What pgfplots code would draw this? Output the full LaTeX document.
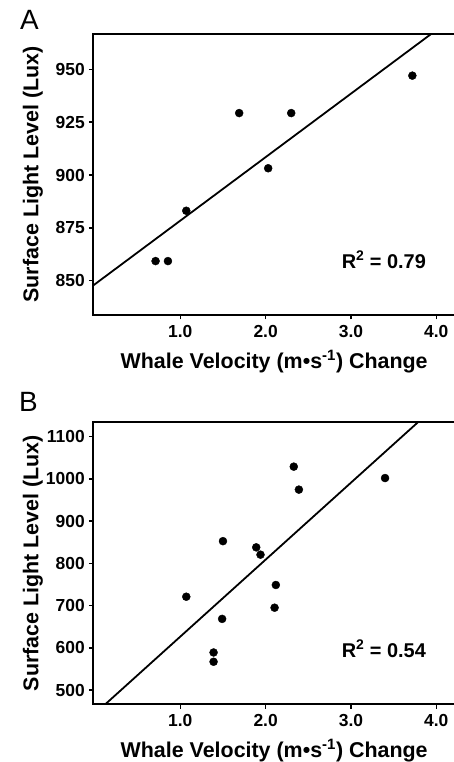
\documentclass[border=0pt]{standalone}
\usepackage{fontspec}
\setmainfont{Liberation Sans}
\usepackage{pgfplots}
\pgfplotsset{compat=1.18}

\pgfplotsset{
  whale/.style={
    scale only axis, width=361.7bp,
    xmin=-0.02, xmax=4.22,
    xtick={1,2,3,4}, xticklabels={1.0,2.0,3.0,4.0},
    tick align=outside, xtick pos=left, ytick pos=left,
    major tick length=4.5bp,
    axis line style={line width=1.8bp},
    every tick/.style={black, line width=1.4bp},
    /pgf/number format/assume math mode=true,
    /pgf/number format/1000 sep={},
    tick label style={font=\fontsize{17.5}{19}\selectfont\bfseries},
    xticklabel style={yshift=-2.5bp},
    yticklabel style={xshift=-0.5bp},
    label style={font=\fontsize{21.5}{24}\selectfont\bfseries},
    xlabel={Whale Velocity (m\textbullet s\textsuperscript{-1}) Change},
    ylabel={Surface Light Level (Lux)},
    xlabel style={at={(axis description cs:0.5,-0.166)}, anchor=center},
    ylabel style={at={(axis description cs:-0.167,0.5)}, anchor=center},
    clip=true,
  },
  dots/.style={only marks, mark=*, mark size=4bp, black},
  fit/.style={black, line width=1.8bp, no marks},
}

\begin{document}
\begin{tikzpicture}
\useasboundingbox (0,0) rectangle (454bp,762bp);

% panel A
\node[anchor=base west, inner sep=0pt, font=\fontsize{28}{30}\selectfont] at (20bp,732.7bp) {A};
\begin{axis}[whale, at={(93.3bp,447bp)}, anchor=south west,
  height=281bp, ymin=833.8, ymax=966.7,
  ytick={850,875,900,925,950}]
\addplot[dots] coordinates {
  (0.71,859.3) (0.855,859.3) (1.07,883.1) (1.69,929.3)
  (2.03,903.2) (2.30,929.3) (3.72,947.0)
};
\addplot[fit] coordinates {(-0.02,847.8) (3.94,966.7)};
\node[anchor=base east, font=\fontsize{20}{22}\selectfont\bfseries]
  at (axis cs:3.92,855.9) {R\textsuperscript{2} = 0.79};
\end{axis}

% panel B
\node[anchor=base west, inner sep=0pt, font=\fontsize{28}{30}\selectfont] at (19bp,350.3bp) {B};
\begin{axis}[whale, at={(93.3bp,58bp)}, anchor=south west,
  height=281.7bp, ymin=467, ymax=1134,
  ytick={500,600,700,800,900,1000,1100}]
\addplot[dots] coordinates {
  (1.07,721) (1.39,589) (1.39,567) (1.49,668.5) (1.50,852.6)
  (1.89,837.9) (1.94,820.6) (2.12,748.8) (2.105,695)
  (2.33,1029) (2.39,974.6) (3.40,1002)
};
\addplot[fit] coordinates {(0.124,467) (3.785,1134)};
\node[anchor=base east, font=\fontsize{20}{22}\selectfont\bfseries]
  at (axis cs:3.92,578) {R\textsuperscript{2} = 0.54};
\end{axis}
\end{tikzpicture}
\end{document}
